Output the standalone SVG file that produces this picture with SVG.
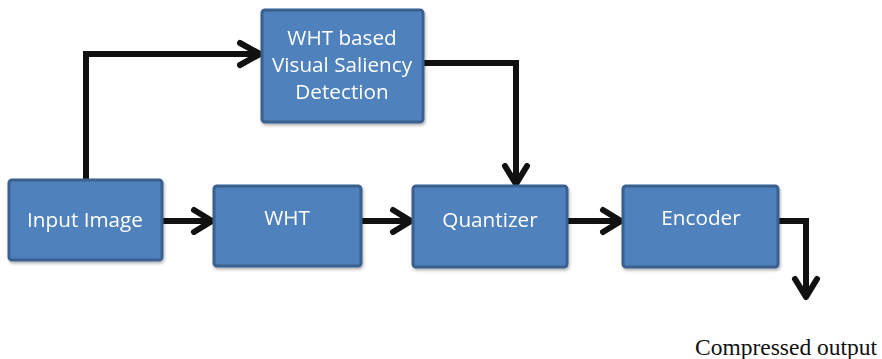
<svg xmlns="http://www.w3.org/2000/svg" width="882" height="359" viewBox="0 0 882 359">
  <style>
    .box { fill: #4F81BD; stroke: #3B6090; stroke-width: 3; }
    .lbl { fill: #ffffff; font-family: "Open Sans", "Noto Sans", sans-serif; font-size: 20.7px; text-anchor: middle; }
    .wire { fill: none; stroke: #111111; stroke-width: 6; stroke-linejoin: miter; }
    .head { fill: none; stroke: #111111; stroke-width: 6; stroke-linecap: round; stroke-linejoin: round; }
    .cap { fill: #111111; font-family: "Liberation Serif", serif; font-size: 23.5px; }
  </style>
  <defs>
    <filter id="shade" x="-10%" y="-10%" width="130%" height="130%">
      <feDropShadow dx="1" dy="2" stdDeviation="1.5" flood-color="#000000" flood-opacity="0.3"/>
    </filter>
  </defs>

  <g id="connectors">
    <!-- Input Image up and over to saliency detection -->
    <path class="wire" d="M86,180 V54 H258"/>
    <path class="head" d="M240,43 L260,54 L240,65"/>
    <!-- saliency detection down into Quantizer -->
    <path class="wire" d="M424,63 H516 V183"/>
    <path class="head" d="M505,166 L516,184 L527,166"/>
    <!-- Input Image to WHT -->
    <path class="wire" d="M163,221 H210"/>
    <path class="head" d="M194,210 L212,221 L194,232"/>
    <!-- WHT to Quantizer -->
    <path class="wire" d="M361,221 H409"/>
    <path class="head" d="M393,210 L411,221 L393,232"/>
    <!-- Quantizer to Encoder -->
    <path class="wire" d="M567,221 H619"/>
    <path class="head" d="M603,210 L621,221 L603,232"/>
    <!-- Encoder to output -->
    <path class="wire" d="M778,221 H806 V296"/>
    <path class="head" d="M795,279 L806,297 L817,279"/>
  </g>

  <g id="input-image" filter="url(#shade)">
    <rect class="box" x="9" y="180" width="153" height="80" rx="3"/>
    <text class="lbl" x="85" y="227">Input Image</text>
  </g>

  <g id="saliency" filter="url(#shade)">
    <rect class="box" x="262" y="10" width="161" height="112" rx="3"/>
    <text class="lbl" x="342" y="45">WHT based</text>
    <text class="lbl" x="342" y="72">Visual Saliency</text>
    <text class="lbl" x="342" y="99">Detection</text>
  </g>

  <g id="wht" filter="url(#shade)">
    <rect class="box" x="214" y="186" width="147" height="80" rx="3"/>
    <text class="lbl" x="287" y="225">WHT</text>
  </g>

  <g id="quantizer" filter="url(#shade)">
    <rect class="box" x="413" y="186" width="154" height="81" rx="3"/>
    <text class="lbl" x="490" y="227">Quantizer</text>
  </g>

  <g id="encoder" filter="url(#shade)">
    <rect class="box" x="623" y="186" width="155" height="81" rx="3"/>
    <text class="lbl" x="701" y="225">Encoder</text>
  </g>

  <g id="output">
    <text class="cap" x="695" y="355">Compressed output</text>
  </g>
</svg>
